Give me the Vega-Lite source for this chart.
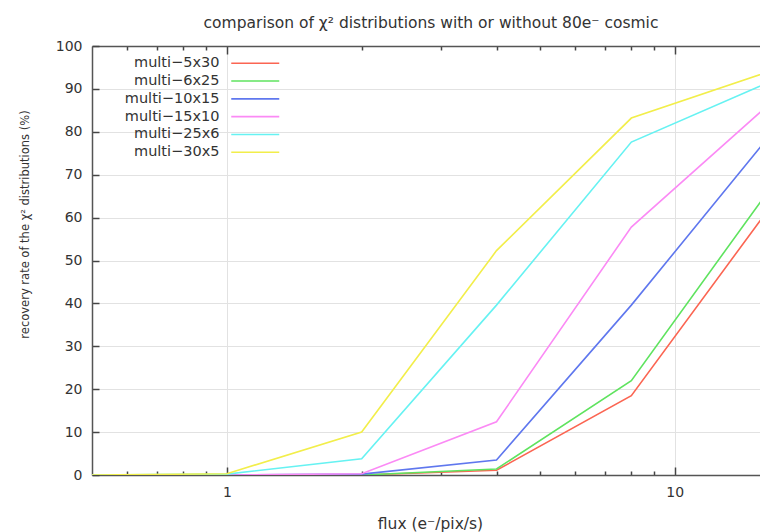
{
  "$schema": "https://vega.github.io/schema/vega-lite/v6.json",
  "width": 668,
  "height": 429,
  "autosize": "none",
  "padding": {"left": 92, "top": 46, "right": 0, "bottom": 57},
  "background": "white",
  "title": {"text": "comparison of χ² distributions with or without 80e⁻ cosmic", "font": "DejaVu Sans", "fontSize": 15.5, "fontWeight": "normal", "color": "#333333", "offset": 8, "dx": 5},
  "config": {
    "view": {"stroke": null},
    "font": "DejaVu Sans",
    "axis": {"domainColor": "#555555", "domainWidth": 1.5, "tickColor": "#444444", "tickWidth": 1.5, "labelColor": "#333333", "labelFontSize": 14, "labelFont": "DejaVu Sans", "titleFont": "DejaVu Sans", "titleFontWeight": "normal", "titleColor": "#333333", "gridColor": "#e2e2e2", "gridWidth": 1}
  },
  "data": {"values": [
    {"series": "multi−5x30", "flux": 0.5, "rate": 0},
    {"series": "multi−5x30", "flux": 1, "rate": 0},
    {"series": "multi−5x30", "flux": 2, "rate": 0},
    {"series": "multi−5x30", "flux": 4, "rate": 1.1},
    {"series": "multi−5x30", "flux": 8, "rate": 18.5},
    {"series": "multi−5x30", "flux": 16, "rate": 61.2},
    {"series": "multi−6x25", "flux": 0.5, "rate": 0},
    {"series": "multi−6x25", "flux": 1, "rate": 0},
    {"series": "multi−6x25", "flux": 2, "rate": 0},
    {"series": "multi−6x25", "flux": 4, "rate": 1.4},
    {"series": "multi−6x25", "flux": 8, "rate": 22},
    {"series": "multi−6x25", "flux": 16, "rate": 65.5},
    {"series": "multi−10x15", "flux": 0.5, "rate": 0},
    {"series": "multi−10x15", "flux": 1, "rate": 0},
    {"series": "multi−10x15", "flux": 2, "rate": 0.2},
    {"series": "multi−10x15", "flux": 4, "rate": 3.5},
    {"series": "multi−10x15", "flux": 8, "rate": 39.6},
    {"series": "multi−10x15", "flux": 16, "rate": 78.1},
    {"series": "multi−15x10", "flux": 0.5, "rate": 0},
    {"series": "multi−15x10", "flux": 1, "rate": 0},
    {"series": "multi−15x10", "flux": 2, "rate": 0.3},
    {"series": "multi−15x10", "flux": 4, "rate": 12.4},
    {"series": "multi−15x10", "flux": 8, "rate": 57.8},
    {"series": "multi−15x10", "flux": 16, "rate": 85.8},
    {"series": "multi−25x6", "flux": 0.5, "rate": 0},
    {"series": "multi−25x6", "flux": 1, "rate": 0.2},
    {"series": "multi−25x6", "flux": 2, "rate": 3.8},
    {"series": "multi−25x6", "flux": 4, "rate": 39.6},
    {"series": "multi−25x6", "flux": 8, "rate": 77.6},
    {"series": "multi−25x6", "flux": 16, "rate": 91.3},
    {"series": "multi−30x5", "flux": 0.5, "rate": 0},
    {"series": "multi−30x5", "flux": 1, "rate": 0.3},
    {"series": "multi−30x5", "flux": 2, "rate": 10},
    {"series": "multi−30x5", "flux": 4, "rate": 52.3},
    {"series": "multi−30x5", "flux": 8, "rate": 83.2},
    {"series": "multi−30x5", "flux": 16, "rate": 93.8}
  ]},
  "layer": [
    {
      "mark": {"type": "line", "clip": true, "strokeWidth": 1.6},
      "encoding": {
        "x": {"field": "flux", "type": "quantitative",
          "scale": {"type": "log", "domain": [0.5, 15.5], "nice": false},
          "axis": {"orient": "bottom", "values": [0.6, 0.7, 0.8, 0.9, 1, 2, 3, 4, 5, 6, 7, 8, 9, 10],
            "labelExpr": "datum.value == 1 ? '1' : datum.value == 10 ? '10' : ''",
            "tickSize": {"condition": {"test": "datum.value == 1 || datum.value == 10", "value": -8}, "value": -4},
            "labelPadding": 18,
            "grid": true,
            "gridOpacity": {"condition": {"test": "datum.value == 1 || datum.value == 10", "value": 1}, "value": 0},
            "title": "flux (e⁻/pix/s)", "titleFontSize": 15.5, "titleX": 338, "titleY": 48, "titleAlign": "center", "titleBaseline": "middle"}},
        "y": {"field": "rate", "type": "quantitative",
          "scale": {"domain": [0, 100], "nice": false},
          "axis": {"values": [0, 10, 20, 30, 40, 50, 60, 70, 80, 90, 100], "tickSize": -7, "labelPadding": 17, "grid": true,
            "title": "recovery rate of the χ² distributions (%)", "titleFontSize": 11.5, "titleAngle": 270, "titleX": -67, "titleY": 178, "titleAlign": "center", "titleBaseline": "middle"}},
        "color": {"field": "series", "type": "nominal",
          "scale": {"domain": ["multi−5x30", "multi−6x25", "multi−10x15", "multi−15x10", "multi−25x6", "multi−30x5"],
            "range": ["#fb6552", "#5fe35f", "#5f77ee", "#fb8af5", "#66f2f2", "#f2ee4a"]},
          "legend": {"orient": "none", "legendX": 156, "legendY": 10, "title": null,
            "symbolType": "M-4,0H4", "symbolSize": 144, "symbolStrokeWidth": 1.6,
            "labelAlign": "right", "labelOffset": -43, "labelFontSize": 14.5, "labelColor": "#333333", "labelFont": "DejaVu Sans", "rowPadding": 2.8, "labelLimit": 200}}
      }
    },
    {
      "mark": {"type": "line", "clip": true, "opacity": 0},
      "encoding": {
        "x": {"field": "flux", "type": "quantitative",
          "axis": {"orient": "top", "values": [0.6, 0.7, 0.8, 0.9, 1, 2, 3, 4, 5, 6, 7, 8, 9, 10],
            "labels": false, "grid": false, "title": null,
            "tickSize": {"condition": {"test": "datum.value == 1 || datum.value == 10", "value": -8}, "value": -4}}},
        "y": {"field": "rate", "type": "quantitative"},
        "detail": {"field": "series", "type": "nominal"}
      }
    }
  ],
  "resolve": {"axis": {"x": "independent"}}
}
